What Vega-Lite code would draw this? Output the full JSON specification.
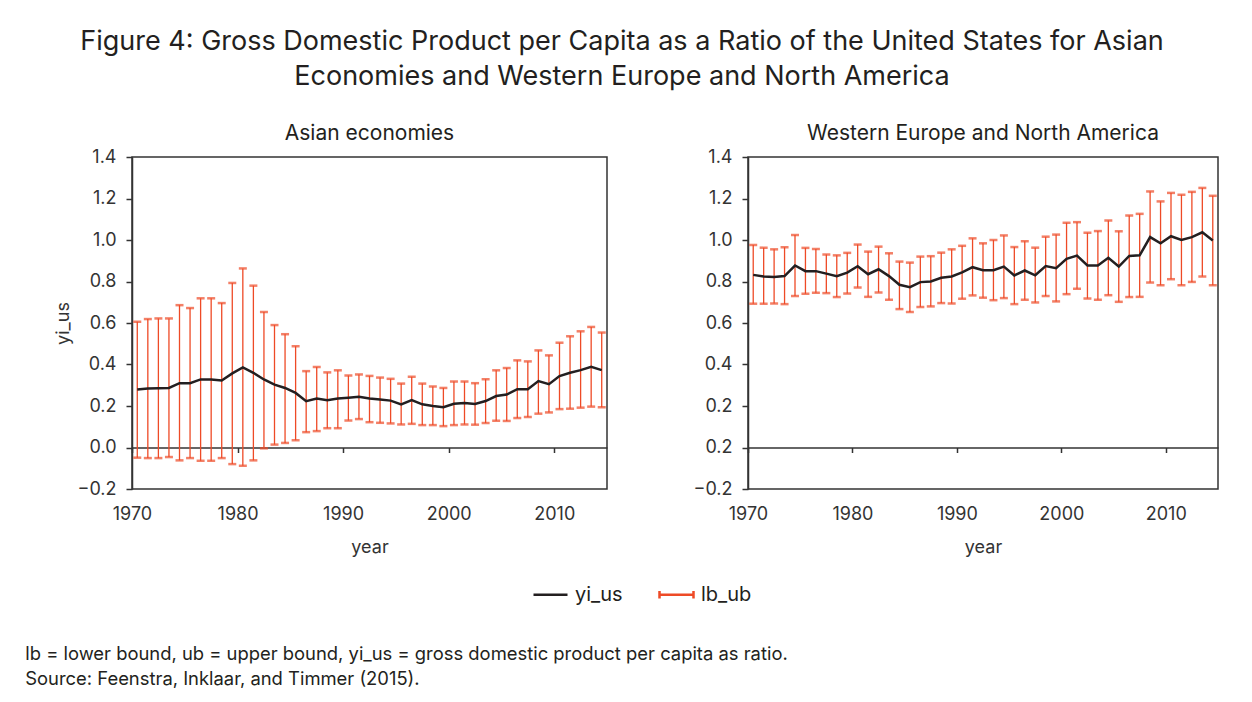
{
  "$schema": "https://vega.github.io/schema/vega-lite/v6.json",
  "background": "white",
  "padding": {"left": 25, "top": 28, "right": 10, "bottom": 5},
  "title": {
    "text": ["Figure 4: Gross Domestic Product per Capita as a Ratio of the United States for Asian", "Economies and Western Europe and North America"],
    "fontSize": 27, "fontWeight": "normal", "color": "#231f20", "lineHeight": 35, "anchor": "middle", "offset": 31
  },
  "data": {"values": [
    {"region": "Asian economies", "year": 1970, "yi_us": 0.279, "lb": -0.049, "ub": 0.606},
    {"region": "Asian economies", "year": 1971, "yi_us": 0.284, "lb": -0.051, "ub": 0.619},
    {"region": "Asian economies", "year": 1972, "yi_us": 0.286, "lb": -0.051, "ub": 0.622},
    {"region": "Asian economies", "year": 1973, "yi_us": 0.287, "lb": -0.046, "ub": 0.622},
    {"region": "Asian economies", "year": 1974, "yi_us": 0.310, "lb": -0.062, "ub": 0.686},
    {"region": "Asian economies", "year": 1975, "yi_us": 0.310, "lb": -0.051, "ub": 0.672},
    {"region": "Asian economies", "year": 1976, "yi_us": 0.328, "lb": -0.064, "ub": 0.719},
    {"region": "Asian economies", "year": 1977, "yi_us": 0.328, "lb": -0.064, "ub": 0.719},
    {"region": "Asian economies", "year": 1978, "yi_us": 0.323, "lb": -0.051, "ub": 0.696},
    {"region": "Asian economies", "year": 1979, "yi_us": 0.357, "lb": -0.080, "ub": 0.793},
    {"region": "Asian economies", "year": 1980, "yi_us": 0.386, "lb": -0.088, "ub": 0.863},
    {"region": "Asian economies", "year": 1981, "yi_us": 0.360, "lb": -0.062, "ub": 0.780},
    {"region": "Asian economies", "year": 1982, "yi_us": 0.328, "lb": -0.004, "ub": 0.653},
    {"region": "Asian economies", "year": 1983, "yi_us": 0.303, "lb": 0.014, "ub": 0.590},
    {"region": "Asian economies", "year": 1984, "yi_us": 0.287, "lb": 0.022, "ub": 0.546},
    {"region": "Asian economies", "year": 1985, "yi_us": 0.263, "lb": 0.035, "ub": 0.488},
    {"region": "Asian economies", "year": 1986, "yi_us": 0.223, "lb": 0.074, "ub": 0.368},
    {"region": "Asian economies", "year": 1987, "yi_us": 0.236, "lb": 0.079, "ub": 0.388},
    {"region": "Asian economies", "year": 1988, "yi_us": 0.228, "lb": 0.093, "ub": 0.362},
    {"region": "Asian economies", "year": 1989, "yi_us": 0.236, "lb": 0.093, "ub": 0.372},
    {"region": "Asian economies", "year": 1990, "yi_us": 0.240, "lb": 0.130, "ub": 0.347},
    {"region": "Asian economies", "year": 1991, "yi_us": 0.244, "lb": 0.137, "ub": 0.352},
    {"region": "Asian economies", "year": 1992, "yi_us": 0.236, "lb": 0.122, "ub": 0.345},
    {"region": "Asian economies", "year": 1993, "yi_us": 0.231, "lb": 0.119, "ub": 0.337},
    {"region": "Asian economies", "year": 1994, "yi_us": 0.226, "lb": 0.116, "ub": 0.331},
    {"region": "Asian economies", "year": 1995, "yi_us": 0.208, "lb": 0.111, "ub": 0.308},
    {"region": "Asian economies", "year": 1996, "yi_us": 0.229, "lb": 0.114, "ub": 0.341},
    {"region": "Asian economies", "year": 1997, "yi_us": 0.208, "lb": 0.108, "ub": 0.308},
    {"region": "Asian economies", "year": 1998, "yi_us": 0.200, "lb": 0.108, "ub": 0.294},
    {"region": "Asian economies", "year": 1999, "yi_us": 0.194, "lb": 0.103, "ub": 0.287},
    {"region": "Asian economies", "year": 2000, "yi_us": 0.211, "lb": 0.108, "ub": 0.318},
    {"region": "Asian economies", "year": 2001, "yi_us": 0.215, "lb": 0.111, "ub": 0.318},
    {"region": "Asian economies", "year": 2002, "yi_us": 0.210, "lb": 0.110, "ub": 0.310},
    {"region": "Asian economies", "year": 2003, "yi_us": 0.224, "lb": 0.118, "ub": 0.329},
    {"region": "Asian economies", "year": 2004, "yi_us": 0.248, "lb": 0.129, "ub": 0.372},
    {"region": "Asian economies", "year": 2005, "yi_us": 0.255, "lb": 0.128, "ub": 0.383},
    {"region": "Asian economies", "year": 2006, "yi_us": 0.281, "lb": 0.142, "ub": 0.420},
    {"region": "Asian economies", "year": 2007, "yi_us": 0.281, "lb": 0.147, "ub": 0.415},
    {"region": "Asian economies", "year": 2008, "yi_us": 0.320, "lb": 0.163, "ub": 0.468},
    {"region": "Asian economies", "year": 2009, "yi_us": 0.305, "lb": 0.169, "ub": 0.444},
    {"region": "Asian economies", "year": 2010, "yi_us": 0.344, "lb": 0.185, "ub": 0.505},
    {"region": "Asian economies", "year": 2011, "yi_us": 0.360, "lb": 0.187, "ub": 0.536},
    {"region": "Asian economies", "year": 2012, "yi_us": 0.373, "lb": 0.192, "ub": 0.560},
    {"region": "Asian economies", "year": 2013, "yi_us": 0.389, "lb": 0.197, "ub": 0.581},
    {"region": "Asian economies", "year": 2014, "yi_us": 0.373, "lb": 0.194, "ub": 0.554},
    {"region": "Western Europe and North America", "year": 1970, "yi_us": 0.832, "lb": 0.693, "ub": 0.976},
    {"region": "Western Europe and North America", "year": 1971, "yi_us": 0.824, "lb": 0.693, "ub": 0.963},
    {"region": "Western Europe and North America", "year": 1972, "yi_us": 0.822, "lb": 0.694, "ub": 0.955},
    {"region": "Western Europe and North America", "year": 1973, "yi_us": 0.826, "lb": 0.691, "ub": 0.965},
    {"region": "Western Europe and North America", "year": 1974, "yi_us": 0.877, "lb": 0.730, "ub": 1.024},
    {"region": "Western Europe and North America", "year": 1975, "yi_us": 0.850, "lb": 0.741, "ub": 0.962},
    {"region": "Western Europe and North America", "year": 1976, "yi_us": 0.850, "lb": 0.746, "ub": 0.957},
    {"region": "Western Europe and North America", "year": 1977, "yi_us": 0.838, "lb": 0.744, "ub": 0.930},
    {"region": "Western Europe and North America", "year": 1978, "yi_us": 0.826, "lb": 0.725, "ub": 0.926},
    {"region": "Western Europe and North America", "year": 1979, "yi_us": 0.843, "lb": 0.742, "ub": 0.938},
    {"region": "Western Europe and North America", "year": 1980, "yi_us": 0.874, "lb": 0.771, "ub": 0.978},
    {"region": "Western Europe and North America", "year": 1981, "yi_us": 0.835, "lb": 0.726, "ub": 0.944},
    {"region": "Western Europe and North America", "year": 1982, "yi_us": 0.859, "lb": 0.747, "ub": 0.968},
    {"region": "Western Europe and North America", "year": 1983, "yi_us": 0.826, "lb": 0.712, "ub": 0.936},
    {"region": "Western Europe and North America", "year": 1984, "yi_us": 0.784, "lb": 0.667, "ub": 0.896},
    {"region": "Western Europe and North America", "year": 1985, "yi_us": 0.773, "lb": 0.653, "ub": 0.891},
    {"region": "Western Europe and North America", "year": 1986, "yi_us": 0.797, "lb": 0.677, "ub": 0.920},
    {"region": "Western Europe and North America", "year": 1987, "yi_us": 0.800, "lb": 0.680, "ub": 0.922},
    {"region": "Western Europe and North America", "year": 1988, "yi_us": 0.818, "lb": 0.696, "ub": 0.939},
    {"region": "Western Europe and North America", "year": 1989, "yi_us": 0.824, "lb": 0.694, "ub": 0.955},
    {"region": "Western Europe and North America", "year": 1990, "yi_us": 0.844, "lb": 0.717, "ub": 0.972},
    {"region": "Western Europe and North America", "year": 1991, "yi_us": 0.869, "lb": 0.733, "ub": 1.008},
    {"region": "Western Europe and North America", "year": 1992, "yi_us": 0.854, "lb": 0.722, "ub": 0.984},
    {"region": "Western Europe and North America", "year": 1993, "yi_us": 0.854, "lb": 0.710, "ub": 1.000},
    {"region": "Western Europe and North America", "year": 1994, "yi_us": 0.872, "lb": 0.720, "ub": 1.022},
    {"region": "Western Europe and North America", "year": 1995, "yi_us": 0.829, "lb": 0.691, "ub": 0.966},
    {"region": "Western Europe and North America", "year": 1996, "yi_us": 0.853, "lb": 0.712, "ub": 0.994},
    {"region": "Western Europe and North America", "year": 1997, "yi_us": 0.830, "lb": 0.699, "ub": 0.963},
    {"region": "Western Europe and North America", "year": 1998, "yi_us": 0.874, "lb": 0.730, "ub": 1.016},
    {"region": "Western Europe and North America", "year": 1999, "yi_us": 0.864, "lb": 0.704, "ub": 1.026},
    {"region": "Western Europe and North America", "year": 2000, "yi_us": 0.909, "lb": 0.739, "ub": 1.083},
    {"region": "Western Europe and North America", "year": 2001, "yi_us": 0.925, "lb": 0.765, "ub": 1.086},
    {"region": "Western Europe and North America", "year": 2002, "yi_us": 0.877, "lb": 0.718, "ub": 1.035},
    {"region": "Western Europe and North America", "year": 2003, "yi_us": 0.877, "lb": 0.712, "ub": 1.043},
    {"region": "Western Europe and North America", "year": 2004, "yi_us": 0.914, "lb": 0.734, "ub": 1.094},
    {"region": "Western Europe and North America", "year": 2005, "yi_us": 0.872, "lb": 0.702, "ub": 1.042},
    {"region": "Western Europe and North America", "year": 2006, "yi_us": 0.923, "lb": 0.725, "ub": 1.118},
    {"region": "Western Europe and North America", "year": 2007, "yi_us": 0.926, "lb": 0.726, "ub": 1.126},
    {"region": "Western Europe and North America", "year": 2008, "yi_us": 1.014, "lb": 0.795, "ub": 1.234},
    {"region": "Western Europe and North America", "year": 2009, "yi_us": 0.984, "lb": 0.782, "ub": 1.186},
    {"region": "Western Europe and North America", "year": 2010, "yi_us": 1.018, "lb": 0.811, "ub": 1.227},
    {"region": "Western Europe and North America", "year": 2011, "yi_us": 1.000, "lb": 0.782, "ub": 1.218},
    {"region": "Western Europe and North America", "year": 2012, "yi_us": 1.014, "lb": 0.798, "ub": 1.232},
    {"region": "Western Europe and North America", "year": 2013, "yi_us": 1.037, "lb": 0.824, "ub": 1.251},
    {"region": "Western Europe and North America", "year": 2014, "yi_us": 0.998, "lb": 0.782, "ub": 1.213}
  ]},
  "vconcat": [
    {
      "title": {
        "text": ["lb = lower bound, ub = upper bound, yi_us = gross domestic product per capita as ratio.", "Source: Feenstra, Inklaar, and Timmer (2015)."],
        "orient": "bottom", "anchor": "start", "frame": "bounds", "dx": -28, "offset": 88,
        "fontSize": 18.4, "fontWeight": "normal", "color": "#231f20", "lineHeight": 25
      },
      "spacing": 84,
      "hconcat": [
        {
          "width": 475, "height": 332,
          "title": {"text": "Asian economies"},
          "transform": [{"filter": "datum.region === 'Asian economies'"}],
          "layer": [
            {
              "mark": {"type": "rule", "strokeWidth": 1.3},
              "encoding": {
                "x": {"field": "year", "type": "quantitative", "scale": {"domain": [1969.5, 2014.5], "nice": false, "zero": false},
                      "axis": {"values": [1969.5, 1979.5, 1989.5, 1999.5, 2009.5], "labelExpr": "format(datum.value + 0.5, 'd')", "labelFlush": false, "labelOverlap": false, "domain": false, "ticks": false, "labelPadding": 16, "title": "year", "titlePadding": 15}},
                "y": {"field": "lb", "type": "quantitative", "scale": {"domain": [-0.2, 1.4], "nice": false, "zero": false},
                      "axis": {"values": [-0.2, 0, 0.2, 0.4, 0.6, 0.8, 1.0, 1.2, 1.4], "format": ".1f", "labelFlush": false, "labelOverlap": false, "tickSize": 6, "labelPadding": 10, "title": "yi_us", "titlePadding": 5}},
                "y2": {"field": "ub"},
                "color": {"datum": "lb_ub"}
              }
            },
            {
              "mark": {"type": "tick", "orient": "horizontal", "size": 8, "thickness": 2.5},
              "encoding": {
                "x": {"field": "year", "type": "quantitative", "axis": null},
                "y": {"field": "lb", "type": "quantitative",
                      "axis": {"values": [-0.2, 0, 0.2, 0.4, 0.6, 0.8, 1.0, 1.2, 1.4], "format": ".1f", "labelFlush": false, "labelOverlap": false, "tickSize": 6, "labelPadding": 10, "title": "yi_us", "titlePadding": 5}},
                "color": {"datum": "lb_ub"}
              }
            },
            {
              "mark": {"type": "tick", "orient": "horizontal", "size": 8, "thickness": 2.5},
              "encoding": {
                "x": {"field": "year", "type": "quantitative", "axis": null},
                "y": {"field": "ub", "type": "quantitative",
                      "axis": {"values": [-0.2, 0, 0.2, 0.4, 0.6, 0.8, 1.0, 1.2, 1.4], "format": ".1f", "labelFlush": false, "labelOverlap": false, "tickSize": 6, "labelPadding": 10, "title": "yi_us", "titlePadding": 5}},
                "color": {"datum": "lb_ub"}
              }
            },
            {
              "mark": {"type": "line", "strokeWidth": 2.5},
              "encoding": {
                "x": {"field": "year", "type": "quantitative",
                      "axis": {"orient": "bottom", "offset": -41.5, "values": [1969.5, 1979.5, 1989.5, 1999.5, 2009.5], "labels": false, "title": null, "tickSize": 5, "domain": true, "domainWidth": 1.5, "ticks": true}},
                "y": {"field": "yi_us", "type": "quantitative",
                      "axis": {"values": [-0.2, 0, 0.2, 0.4, 0.6, 0.8, 1.0, 1.2, 1.4], "format": ".1f", "labelFlush": false, "labelOverlap": false, "tickSize": 6, "labelPadding": 10, "title": "yi_us", "titlePadding": 5}},
                "color": {"datum": "yi_us"}
              }
            }
          ],
          "resolve": {"axis": {"x": "independent"}}
        },
        {
          "width": 470, "height": 332,
          "title": {"text": "Western Europe and North America"},
          "transform": [{"filter": "datum.region === 'Western Europe and North America'"}],
          "layer": [
            {
              "mark": {"type": "rule", "strokeWidth": 1.3},
              "encoding": {
                "x": {"field": "year", "type": "quantitative", "scale": {"domain": [1969.5, 2014.5], "nice": false, "zero": false},
                      "axis": {"values": [1969.5, 1979.5, 1989.5, 1999.5, 2009.5], "labelExpr": "format(datum.value + 0.5, 'd')", "labelFlush": false, "labelOverlap": false, "domain": false, "ticks": false, "labelPadding": 16, "title": "year", "titlePadding": 15}},
                "y": {"field": "lb", "type": "quantitative", "scale": {"domain": [-0.2, 1.4], "nice": false, "zero": false},
                      "axis": {"values": [-0.2, 0, 0.2, 0.4, 0.6, 0.8, 1.0, 1.2, 1.4], "format": ".1f", "labelExpr": "datum.value == 0 ? '0.2' : datum.label", "labelFlush": false, "labelOverlap": false, "tickSize": 6, "labelPadding": 10, "title": null}},
                "y2": {"field": "ub"},
                "color": {"datum": "lb_ub"}
              }
            },
            {
              "mark": {"type": "tick", "orient": "horizontal", "size": 8, "thickness": 2.5},
              "encoding": {
                "x": {"field": "year", "type": "quantitative", "axis": null},
                "y": {"field": "lb", "type": "quantitative",
                      "axis": {"values": [-0.2, 0, 0.2, 0.4, 0.6, 0.8, 1.0, 1.2, 1.4], "format": ".1f", "labelExpr": "datum.value == 0 ? '0.2' : datum.label", "labelFlush": false, "labelOverlap": false, "tickSize": 6, "labelPadding": 10, "title": null}},
                "color": {"datum": "lb_ub"}
              }
            },
            {
              "mark": {"type": "tick", "orient": "horizontal", "size": 8, "thickness": 2.5},
              "encoding": {
                "x": {"field": "year", "type": "quantitative", "axis": null},
                "y": {"field": "ub", "type": "quantitative",
                      "axis": {"values": [-0.2, 0, 0.2, 0.4, 0.6, 0.8, 1.0, 1.2, 1.4], "format": ".1f", "labelExpr": "datum.value == 0 ? '0.2' : datum.label", "labelFlush": false, "labelOverlap": false, "tickSize": 6, "labelPadding": 10, "title": null}},
                "color": {"datum": "lb_ub"}
              }
            },
            {
              "mark": {"type": "line", "strokeWidth": 2.5},
              "encoding": {
                "x": {"field": "year", "type": "quantitative",
                      "axis": {"orient": "bottom", "offset": -41.5, "values": [1969.5, 1979.5, 1989.5, 1999.5, 2009.5], "labels": false, "title": null, "tickSize": 5, "domain": true, "domainWidth": 1.5, "ticks": true}},
                "y": {"field": "yi_us", "type": "quantitative",
                      "axis": {"values": [-0.2, 0, 0.2, 0.4, 0.6, 0.8, 1.0, 1.2, 1.4], "format": ".1f", "labelExpr": "datum.value == 0 ? '0.2' : datum.label", "labelFlush": false, "labelOverlap": false, "tickSize": 6, "labelPadding": 10, "title": null}},
                "color": {"datum": "yi_us",
                          "scale": {"domain": ["yi_us", "lb_ub"], "range": ["#231f20", "#ee4a26"]},
                          "legend": {"orient": "none", "legendX": 400, "legendY": 419, "direction": "horizontal", "title": null,
                                     "labelFontSize": 20, "labelColor": "#231f20", "symbolSize": 1156, "symbolStrokeWidth": 2.5, "columnPadding": 31, "labelOffset": 6,
                                     "encode": {"symbols": {"update": {
                                       "shape": {"signal": "datum.value === 'yi_us' ? 'M-1,0H1' : 'M-1,-0.22V0.22M-1,0H1M1,-0.22V0.22'"},
                                       "fill": {"value": "transparent"},
                                       "stroke": {"scale": "color", "field": "value"},
                                       "strokeWidth": {"value": 2.5}
                                     }}}}}
              }
            }
          ],
          "resolve": {"axis": {"x": "independent"}}
        }
      ]
    }
  ],
  "config": {
    "font": "Inter",
    "view": {"stroke": "#333333", "strokeWidth": 1.5},
    "title": {"fontSize": 21, "fontWeight": "normal", "color": "#231f20", "offset": 4},
    "axis": {"labelFontSize": 18, "labelColor": "#333333", "titleFontSize": 18, "titleFontWeight": "normal", "titleColor": "#333333", "domainColor": "#333333", "domainWidth": 1.5, "tickColor": "#333333", "tickWidth": 1.5, "grid": false},
    "legend": {"labelFont": "Inter"}
  }
}
